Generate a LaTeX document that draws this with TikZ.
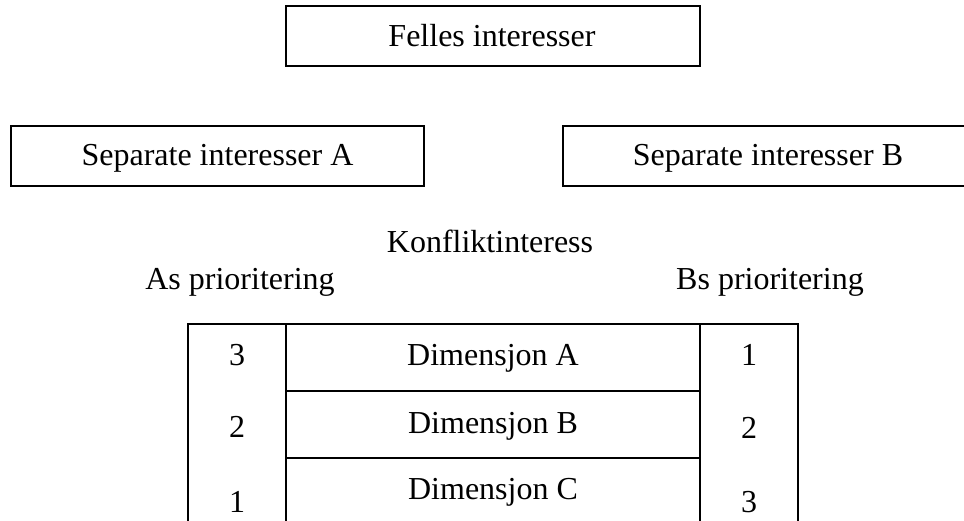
\documentclass[tikz,border=0pt]{standalone}
\usepackage{fontspec}
\setmainfont{Liberation Serif}
\begin{document}
\begin{tikzpicture}[x=1pt,y=-1pt,
  frame/.style={draw=black,line width=2pt},
  txt/.style={inner sep=0pt,anchor=base,font=\fontsize{32}{38}\selectfont}]
\useasboundingbox (0,0) rectangle (964,521);
% boxes
\draw[frame] (286.3,6.3) rectangle (700.3,65.7);
\draw[frame] (11,125.7) rectangle (424.3,185.7);
\draw[frame] (562.7,125.7) rectangle (980,185.7);
\node[txt] (felles) at (492,47) {Felles interesser};
\node[txt] (sepa) at (217.5,166) {Separate interesser A};
\node[txt] (sepb) at (768,166) {Separate interesser B};
\node[txt] (konf) at (490,253) {Konfliktinteress};
\node[txt] (asp) at (240,290) {As prioritering};
\node[txt] (bsp) at (770,290) {Bs prioritering};
% table
\coordinate (tl) at (187.7,324);
\coordinate (tr) at (798,324);
\draw[frame] (187.7,530) -- (tl) -- (tr) -- (798,530);
\draw[frame] (286,324) -- (286,530);
\draw[frame] (700,324) -- (700,530);
\draw[frame] (286,391) -- (700,391);
\draw[frame] (286,457.5) -- (700,457.5);
\node[txt] (a3) at (237,365) {3};
\node[txt] (a2) at (237,437) {2};
\node[txt] (a1) at (237,512) {1};
\node[txt] (da) at (493,365) {Dimensjon A};
\node[txt] (db) at (493,433) {Dimensjon B};
\node[txt] (dc) at (493,499) {Dimensjon C};
\node[txt] (b1) at (749,365) {1};
\node[txt] (b2) at (749,438) {2};
\node[txt] (b3) at (749,512) {3};
\end{tikzpicture}
\end{document}
